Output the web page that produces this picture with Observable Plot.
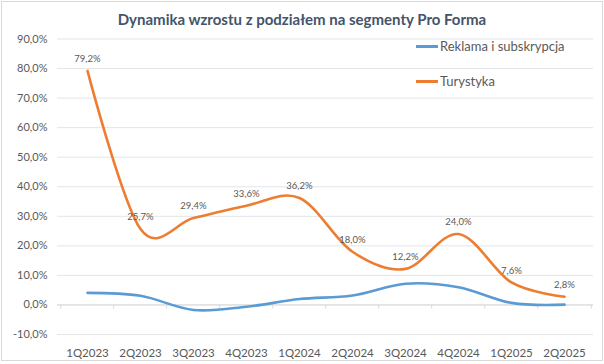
<!DOCTYPE html>
<html>
<head>
<meta charset="utf-8">
<script src="https://cdn.jsdelivr.net/npm/d3@7"></script>
<script src="https://cdn.jsdelivr.net/npm/@observablehq/plot@0.6"></script>
<style>
  html, body { margin: 0; padding: 0; background: #fff; }
  #chart { position: relative; width: 604px; height: 364px; overflow: hidden; font-family: Lato, "DejaVu Sans", sans-serif; }
  #frame { position: absolute; left: 1px; top: 1px; width: 600px; height: 358px; border: 1px solid #d9d9d9; pointer-events: none; }
  #title { position: absolute; left: 0; top: 10px; width: 604px; text-align: center; font-weight: bold; font-size: 15px; color: #44546a; }
  .leg { position: absolute; font-size: 13px; color: #595959; white-space: nowrap; }
  .leg span { display: inline-block; width: 22px; height: 2.5px; vertical-align: middle; margin-right: 2px; position: relative; top: -1px; }
  #plot { position: absolute; left: 0; top: 0; }
</style>
</head>
<body>
<div id="chart">
  <div id="plot"></div>
  <div id="title">Dynamika wzrostu z podziałem na segmenty Pro Forma</div>
  <div id="legend"></div>
  <div id="frame"></div>
</div>
<script>
const categories = ["1Q2023", "2Q2023", "3Q2023", "4Q2023", "1Q2024", "2Q2024", "3Q2024", "4Q2024", "1Q2025", "2Q2025"];
const reklama = [4.1, 3.1, -1.7, -0.6, 2.0, 3.2, 7.2, 6.0, 0.7, 0.1];
const turystyka = [79.2, 25.7, 29.4, 33.6, 36.2, 18.0, 12.2, 24.0, 7.6, 2.8];
const seriesNames = ["Reklama i subskrypcja", "Turystyka"];
const seriesColors = ["#5b9bd5", "#ed7d31"];
const yTicks = [-10, 0, 10, 20, 30, 40, 50, 60, 70, 80, 90];

const fmt = v => v.toFixed(1).replace(".", ",") + "%";

const rows = [];
categories.forEach((c, i) => {
  rows.push({cat: c, series: seriesNames[0], value: reklama[i]});
  rows.push({cat: c, series: seriesNames[1], value: turystyka[i]});
});
const turRows = rows.filter(d => d.series === seriesNames[1]);

const plot = Plot.plot({
  width: 604,
  height: 364,
  marginLeft: 57,
  marginRight: 11,
  marginTop: 38.5,
  marginBottom: 30,
  style: {fontFamily: "Lato, 'DejaVu Sans', sans-serif", fontSize: "11px", color: "#595959", background: "transparent"},
  x: {type: "point", domain: categories, padding: 0.5, label: null},
  y: {domain: [-10, 90], label: null},
  color: {domain: seriesNames, range: seriesColors},
  marks: [
    Plot.ruleY(yTicks, {stroke: "#e3e5e9", strokeWidth: 1}),
    Plot.ruleY([0], {stroke: "#d9d9d9", strokeWidth: 1}),
    Plot.ruleX(categories, {x: d => d, y1: 0, y2: -1.4, dx: -26.8, stroke: "#d9d9d9"}),
    Plot.ruleX(categories.slice(-1), {x: d => d, y1: 0, y2: -1.4, dx: 26.8, stroke: "#d9d9d9"}),
    Plot.axisY(yTicks, {tickSize: 0, tickPadding: 10, tickFormat: fmt, fontSize: 11, label: null}),
    Plot.axisX({tickSize: 0, tickPadding: 14, fontSize: 11.5, label: null}),
    Plot.line(rows, {x: "cat", y: "value", z: "series", stroke: "series", strokeWidth: 2.6, curve: "cardinal", tension: 0}),
    Plot.text(turRows, {x: "cat", y: "value", text: d => fmt(d.value), dy: -12, fontSize: 9.5, fill: "#595959"})
  ]
});
document.getElementById("plot").appendChild(plot);

const legend = document.getElementById("legend");
const legPos = [{left: 416, top: 38}, {left: 416, top: 73}];
seriesNames.forEach((name, i) => {
  const div = document.createElement("div");
  div.className = "leg";
  div.style.left = legPos[i].left + "px";
  div.style.top = legPos[i].top + "px";
  const sw = document.createElement("span");
  sw.style.background = seriesColors[i];
  div.appendChild(sw);
  div.appendChild(document.createTextNode(name));
  legend.appendChild(div);
});
</script>
</body>
</html>
